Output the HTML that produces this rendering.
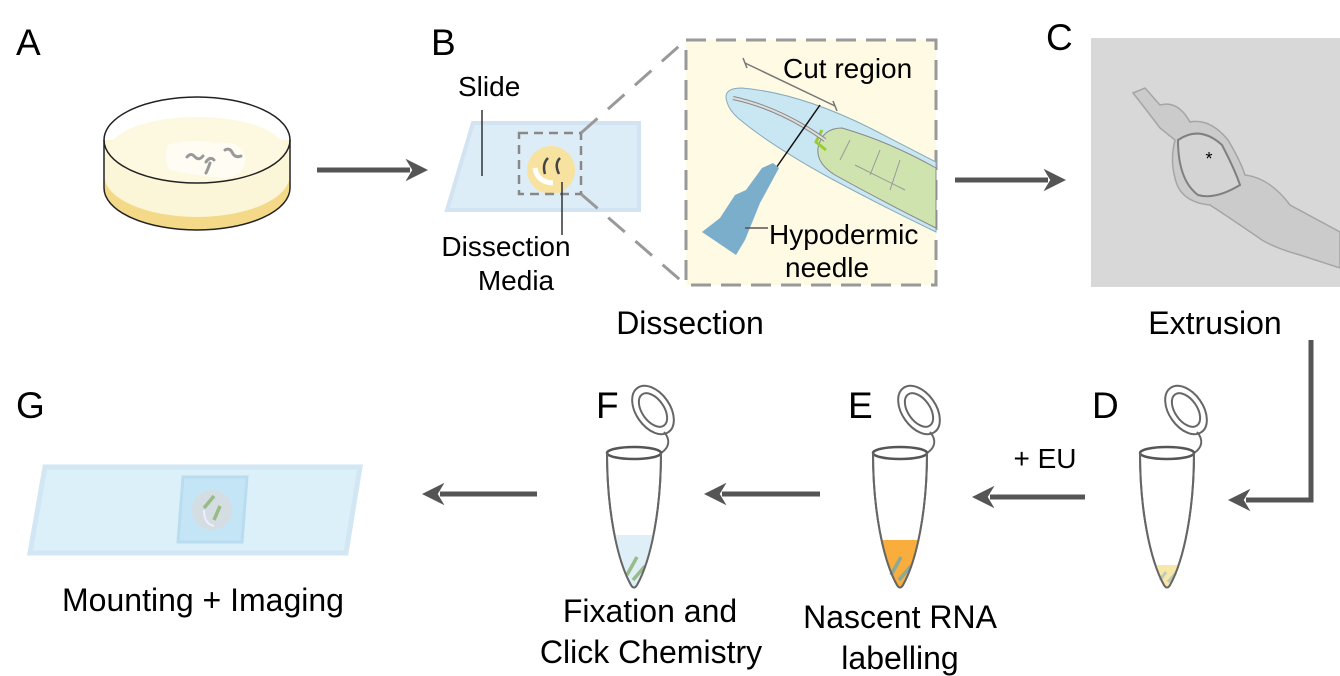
<!DOCTYPE html>
<html><head><style>
html,body{margin:0;padding:0;background:#fff;}
svg{display:block;font-family:"Liberation Sans",Arial,sans-serif;}
</style></head><body>
<svg width="1340" height="676" viewBox="0 0 1340 676" xmlns="http://www.w3.org/2000/svg">
<defs>
<marker id="ah" viewBox="0 0 10 10" refX="2" refY="5" markerWidth="4.5" markerHeight="4.5" orient="auto" markerUnits="strokeWidth">
<path d="M0,0 L10,5 L0,10 L3,5 Z" fill="#555"/></marker>
<clipPath id="tubeclip"><path d="M0,83 C0,140 10,190 24,215 Q27,220 30,215 C44,190 54,140 54,83 Z"/></clipPath>
<g id="tube">
<ellipse cx="46" cy="40" rx="17" ry="27" transform="rotate(-35 46 40)" fill="#fff" stroke="#666" stroke-width="2"/>
<ellipse cx="46" cy="40" rx="11" ry="19" transform="rotate(-35 46 40)" fill="none" stroke="#666" stroke-width="2"/>
<path d="M54,83 C62,78 64,70 57,62" fill="none" stroke="#666" stroke-width="2"/>
<path d="M0,83 C0,140 10,190 24,215 Q27,220 30,215 C44,190 54,140 54,83" fill="#fff" stroke="#666" stroke-width="2"/>
<ellipse cx="27" cy="83" rx="27" ry="6" fill="#fff" stroke="#555" stroke-width="2.5"/>
</g>
</defs>
<g font-size="37" fill="#000">
<text x="16" y="55">A</text><text x="431" y="55">B</text><text x="1046" y="50">C</text>
<text x="16" y="418">G</text><text x="596" y="418">F</text><text x="848" y="418">E</text><text x="1092" y="418">D</text>
</g>
<!-- A dish -->
<path d="M104,140 L104,188 A93,42 0 0 0 290,188 L290,140 Z" fill="#fcf6d8"/>
<path d="M104,175 L104,188 A93,42 0 0 0 290,188 L290,175 A93,42 0 0 1 104,175 Z" fill="#f4da88"/>
<ellipse cx="197" cy="150" rx="88" ry="33" fill="#fdf8e0"/>
<path d="M168,145 Q190,138 215,143 Q240,140 245,155 Q248,175 225,178 Q190,175 170,170 Q163,160 168,145Z" fill="#fffdf3"/>
<path d="M187,157 q4,-5 8,0 q4,4 8,-1 M206,162 q4,-6 8,-2 M210,163 q-2,6 -4,10 M225,150 q5,-3 8,4 q3,4 8,2" stroke="#999" stroke-width="3" fill="none" stroke-linecap="round"/>
<ellipse cx="197" cy="140" rx="93" ry="43" fill="none" stroke="#222" stroke-width="1.5"/>
<path d="M104,140 L104,188 A93,42 0 0 0 290,188 L290,140" fill="none" stroke="#222" stroke-width="1.5"/>
<!-- arrows -->
<g stroke="#555" stroke-width="5" fill="none">
<line x1="317" y1="170" x2="410" y2="170" marker-end="url(#ah)"/>
<line x1="955" y1="180" x2="1048" y2="180" marker-end="url(#ah)"/>
<path d="M1311,340 L1311,500 L1246,500" marker-end="url(#ah)"/>
<line x1="1085" y1="497" x2="990" y2="497" marker-end="url(#ah)"/>
<line x1="820" y1="494" x2="722" y2="494" marker-end="url(#ah)"/>
<line x1="537" y1="494" x2="440" y2="494" marker-end="url(#ah)"/>
</g>
<!-- B slide -->
<polygon points="473,123 639,123 639,210 447,210" fill="#dcedf8" stroke="#d2e4f2" stroke-width="4"/>
<circle cx="551" cy="170" r="24" fill="#f8e2a0"/>
<path d="M535,168 q2,14 18,15" stroke="#fff" stroke-width="5" fill="none"/>
<path d="M548,158 q-6,6 -3,16 M560,158 q-6,6 -1,16" stroke="#444" stroke-width="2.5" fill="none"/>
<rect x="519" y="133" width="62" height="61" fill="none" stroke="#888" stroke-width="2.5" stroke-dasharray="9,6"/>
<line x1="482" y1="110" x2="482" y2="176" stroke="#333" stroke-width="1.5"/>
<line x1="562" y1="182" x2="562" y2="235" stroke="#333" stroke-width="1.5"/>
<line x1="581" y1="133" x2="686" y2="40" stroke="#999" stroke-width="3" stroke-dasharray="22,14"/>
<line x1="581" y1="194" x2="686" y2="285" stroke="#999" stroke-width="3" stroke-dasharray="22,14"/>
<g font-size="28"><text x="458" y="96">Slide</text>
<text x="506" y="256" text-anchor="middle">Dissection</text>
<text x="516" y="290" text-anchor="middle">Media</text></g>
<!-- inset -->
<rect x="686" y="40" width="250" height="245" fill="#fefae4" stroke="#999" stroke-width="3" stroke-dasharray="20,10"/>
<path d="M727,102 Q722,88 742,88 Q800,93 870,128 L936,162 L936,232 Q880,205 830,178 Q770,145 738,118 Q729,110 727,102Z" fill="#c9e6f3" stroke="#8ab" stroke-width="1"/>
<path d="M818,148 Q822,128 842,128 Q890,142 936,168 L936,228 Q880,200 835,175 Q816,163 818,148Z" fill="#cfe3ae" stroke="#888" stroke-width="1"/>
<path d="M822,130 L816,142 L826,150" stroke="#9c3" stroke-width="3" fill="none"/>
<path d="M850,140 L840,160 M880,150 L870,175 M855,165 L905,190 M900,160 L890,190" stroke="#999" stroke-width="1" fill="none"/>
<path d="M733,98 Q780,108 825,140" stroke="#888" stroke-width="4" fill="none"/>
<path d="M733,98 Q780,108 825,140" stroke="#ddd" stroke-width="2" fill="none"/>
<line x1="745" y1="63" x2="835" y2="106" stroke="#777" stroke-width="1.5"/>
<line x1="743" y1="58" x2="747" y2="68" stroke="#777" stroke-width="1.5"/>
<line x1="833" y1="101" x2="837" y2="111" stroke="#777" stroke-width="1.5"/>
<line x1="820" y1="105" x2="776" y2="168" stroke="#111" stroke-width="1.5"/>
<path d="M773,163 L779,168 L766,192 L760,203 L745,240 L736,255 L702,232 L720,218 L735,195 L746,190 L762,168Z" fill="#7aaecb"/>
<line x1="745" y1="228" x2="768" y2="228" stroke="#555" stroke-width="1.5"/>
<g font-size="28"><text x="783" y="78">Cut region</text>
<text x="769" y="244">Hypodermic</text><text x="785" y="277">needle</text></g>
<text x="690" y="334" font-size="32" text-anchor="middle">Dissection</text>
<!-- C photo -->
<rect x="1091" y="38" width="249" height="249" fill="#d8d8d8"/>
<path d="M1133,93 L1145,88 L1160,105 Q1178,100 1190,122 Q1210,118 1228,140 Q1240,160 1245,175 Q1270,178 1290,205 L1340,232 L1340,268 L1300,255 Q1275,248 1262,240 Q1230,218 1210,205 Q1180,202 1175,178 Q1170,160 1175,140 L1160,128 Q1148,112 1133,93Z" fill="#cbcbcb" stroke="#a5a5a5" stroke-width="1.5"/>
<path d="M1178,140 Q1200,125 1222,145 Q1235,170 1240,185 Q1215,200 1198,195 Q1178,180 1178,140Z" fill="#d4d4d4" stroke="#808080" stroke-width="2"/>
<text x="1209" y="165" font-size="18" text-anchor="middle">*</text>
<text x="1215" y="334" font-size="32" text-anchor="middle">Extrusion</text>
<!-- tubes -->
<g transform="translate(873,370)"><use href="#tube"/>
<rect x="0" y="170" width="60" height="60" fill="#f8ad3c" clip-path="url(#tubeclip)"/>
<path d="M18,205 l10,-18 M26,210 l12,-14" stroke="#8a9" stroke-width="3.5"/>
<path d="M0,83 C0,140 10,190 24,215 Q27,220 30,215 C44,190 54,140 54,83" fill="none" stroke="#666" stroke-width="2"/></g>
<g transform="translate(607,370)"><use href="#tube"/>
<rect x="0" y="165" width="60" height="60" fill="#dfeff8" clip-path="url(#tubeclip)"/>
<path d="M20,205 l10,-18 M26,210 l12,-14" stroke="#9b8" stroke-width="3.5"/>
<path d="M0,83 C0,140 10,190 24,215 Q27,220 30,215 C44,190 54,140 54,83" fill="none" stroke="#666" stroke-width="2"/></g>
<g transform="translate(1140,370)"><use href="#tube"/>
<rect x="0" y="195" width="60" height="40" fill="#f7e7a8" clip-path="url(#tubeclip)"/>
<path d="M20,210 l6,-8 M28,212 l8,-9" stroke="#bcb" stroke-width="3"/>
<path d="M0,83 C0,140 10,190 24,215 Q27,220 30,215 C44,190 54,140 54,83" fill="none" stroke="#666" stroke-width="2"/></g>
<text x="1045" y="468" font-size="28" text-anchor="middle">+ EU</text>
<g font-size="32" text-anchor="middle">
<text x="900" y="628">Nascent RNA</text><text x="900" y="669">labelling</text>
<text x="650" y="622">Fixation and</text><text x="651" y="663">Click Chemistry</text>
<text x="203" y="611">Mounting + Imaging</text></g>
<!-- G slide -->
<polygon points="45,467 360,467 346,553 30,553" fill="#dcf0fa" stroke="#d2e6f4" stroke-width="5"/>
<polygon points="183,477 247,477 242,542 178,542" fill="#c4e5f5" stroke="#b9dcef" stroke-width="3"/>
<circle cx="212" cy="510" r="20" fill="#d3dde2"/>
<path d="M204,510 q0,14 10,16" stroke="#eef" stroke-width="2" fill="none"/>
<path d="M204,508 l10,-12 M214,520 l6,-14" stroke="#9b8" stroke-width="3.5"/>
</svg>
</body></html>
